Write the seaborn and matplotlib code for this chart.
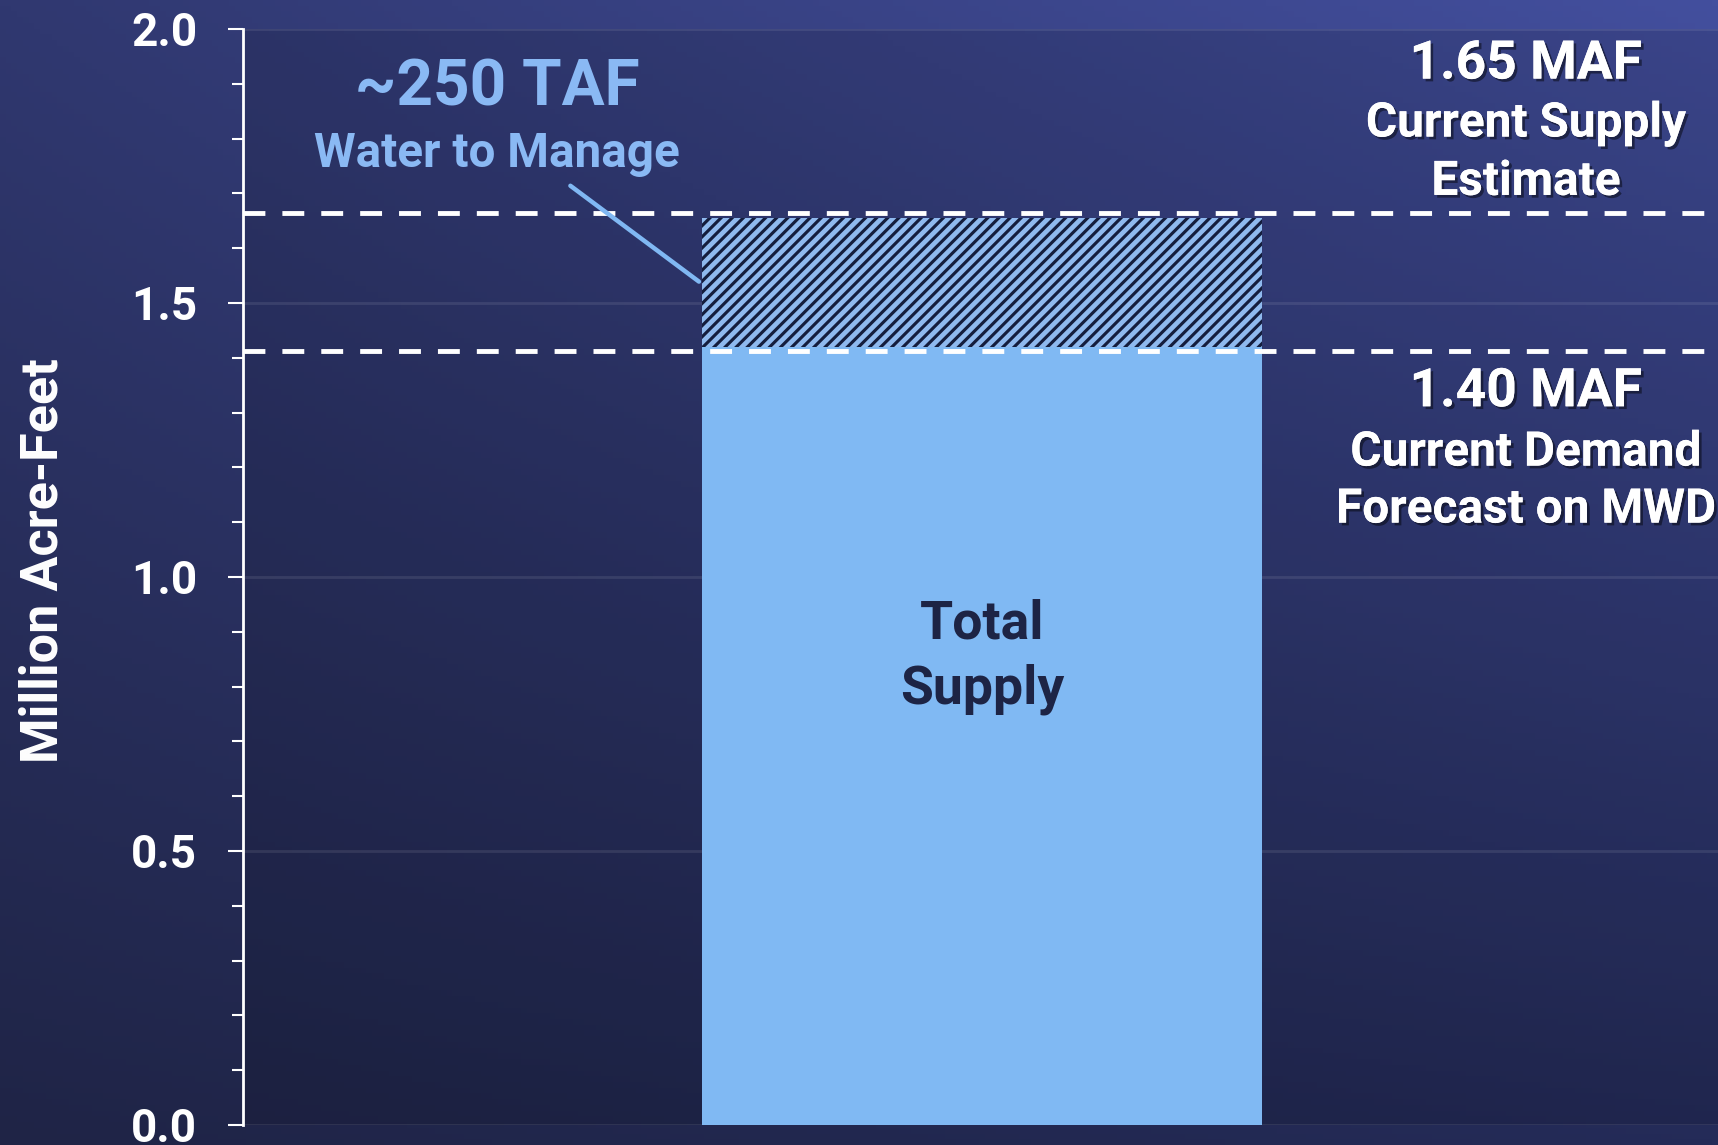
import numpy as np
import pandas as pd
import matplotlib
matplotlib.use("Agg")
import matplotlib.pyplot as plt
import matplotlib.patheffects as pe
from matplotlib.colors import to_rgb
import seaborn as sns

# ---- data ----
categories = ["Total Supply"]
supply_total = [1.655]      # top of hatched block (MAF)
supply_firm = [1.42]        # top of solid block (MAF)
supply_line = 1.665         # dashed line: current supply estimate
demand_line = 1.412         # dashed line: current demand forecast
yticks = [0.0, 0.5, 1.0, 1.5, 2.0]
ytick_labels = ["0.0", "0.5", "1.0", "1.5", "2.0"]

sns.set_theme(style="white")
plt.rcParams["font.family"] = ["Roboto", "DejaVu Sans"]
plt.rcParams["hatch.linewidth"] = 3.4

W, H, DPI = 1718, 1145, 100
fig = plt.figure(figsize=(W / DPI, H / DPI), dpi=DPI)

# background gradient
bg = fig.add_axes([0, 0, 1, 1], zorder=-10)
tl, tr, bl, br = (np.array(to_rgb(c)) for c in ("#303870", "#434f9e", "#1f2446", "#242b58"))
yy, xx = np.mgrid[0:1:200j, 0:1:300j]
img = ((1 - yy)[..., None] * ((1 - xx)[..., None] * tl + xx[..., None] * tr)
       + yy[..., None] * ((1 - xx)[..., None] * bl + xx[..., None] * br))
bg.imshow(img, aspect="auto", extent=[0, 1, 0, 1], origin="upper")
bg.axis("off")

left, right, top, bottom = 243, 1721, 29, 1125
ax = fig.add_axes([left / W, (H - bottom) / H, (right - left) / W, (bottom - top) / H])
ax.set_facecolor((0, 0, 0, 0.12))

df_total = pd.DataFrame({"cat": categories, "val": supply_total})
df_firm = pd.DataFrame({"cat": categories, "val": supply_firm})

sns.barplot(data=df_total, x="cat", y="val", ax=ax, width=0.379, color="#141d3d",
            saturation=1, zorder=2)
for p in ax.patches:
    p.set_hatch("///")
    p.set_edgecolor("#8fb9ee")
    p.set_linewidth(0)
n_before = len(ax.patches)
sns.barplot(data=df_firm, x="cat", y="val", ax=ax, width=0.379, color="#80b9f3",
            saturation=1, zorder=3)
for p in ax.patches[n_before:]:
    p.set_linewidth(0)

ax.set_xlim(-0.5, 0.5)
ax.set_ylim(0, 2.0)

dash = dict(color="white", lw=3.5, dashes=(4.5, 3.5), zorder=5)
ax.axhline(supply_line, **dash)
ax.axhline(demand_line, **dash)

# grid
ax.set_yticks(yticks)
ax.set_yticklabels(ytick_labels)
ax.yaxis.grid(True, color="#ffffff", alpha=0.09, lw=2, zorder=0)
ax.set_axisbelow(True)
ax.set_yticks(np.arange(0, 2.01, 0.1), minor=True)
ax.tick_params(axis="y", which="major", length=11, width=1.5, color="white", left=True,
               labelsize=33, labelcolor="white", pad=22)
ax.tick_params(axis="y", which="minor", length=8, width=1.5, color="white", left=True)
for lab in ax.get_yticklabels():
    lab.set_fontweight("bold")
ax.set_xticks([])
ax.set_xlabel("")
ax.set_ylabel("Million Acre-Feet", fontsize=37.5, fontweight="bold", color="white", labelpad=45)
ax.yaxis.label.set_y(0.515)
for s in ["top", "right", "bottom"]:
    ax.spines[s].set_visible(False)
ax.spines["left"].set_color("white")
ax.spines["left"].set_linewidth(2)
ax.spines["left"].set_zorder(6)

light = "#8ab9f4"
dy = -0.007
ax.text(-0.328, 1.90 + dy, "~250 TAF", color=light, fontsize=46, fontweight="bold",
        ha="center", va="center")
ax.text(-0.328, 1.779 + dy, "Water to Manage", color=light, fontsize=34.3, fontweight="bold",
        ha="center", va="center")
ax.annotate("", xy=(-0.19, 1.536), xytext=(-0.28, 1.717),
            arrowprops=dict(arrowstyle="-", color="#80b8f3", lw=3.2), zorder=6)

ax.text(0, 0.921 + dy, "Total", color="#1d2445", fontsize=38.5, fontweight="bold", ha="center", va="center", zorder=7)
ax.text(0, 0.803 + dy, "Supply", color="#1d2445", fontsize=38.5, fontweight="bold", ha="center", va="center", zorder=7)

shadow = [pe.withSimplePatchShadow(offset=(2, -2), shadow_rgbFace="black", alpha=0.45), pe.Normal()]
rx = 0.368
for txt, y, fs in [("1.65 MAF", 1.943, 38.4), ("Current Supply", 1.834, 34.4), ("Estimate", 1.728, 34.4),
                   ("1.40 MAF", 1.345, 38.4), ("Current Demand", 1.234, 34.4), ("Forecast on MWD", 1.130, 34.4)]:
    ax.text(rx, y + dy, txt, color="white", fontsize=fs, fontweight="bold", ha="center", va="center",
            path_effects=shadow, zorder=8, clip_on=False)

fig.savefig("out.png", dpi=DPI)
